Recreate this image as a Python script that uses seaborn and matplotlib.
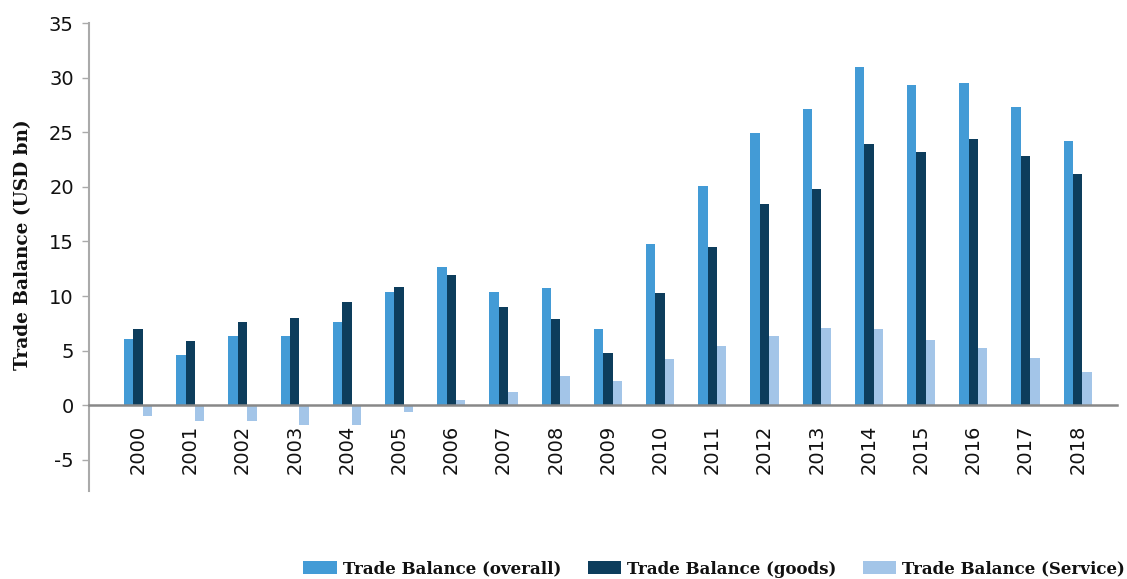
import matplotlib
matplotlib.use("Agg")
import matplotlib.pyplot as plt
import seaborn as sns
import pandas as pd
from matplotlib.patches import Patch

years = [str(y) for y in range(2000, 2019)]
overall = [6.1, 4.6, 6.3, 6.3, 7.6, 10.4, 12.7, 10.4, 10.7, 7.0, 14.8, 20.1, 24.9, 27.1, 31.0, 29.3, 29.5, 27.3, 24.2]
goods = [7.0, 5.9, 7.6, 8.0, 9.5, 10.8, 11.9, 9.0, 7.9, 4.8, 10.3, 14.5, 18.4, 19.8, 23.9, 23.2, 24.4, 22.8, 21.2]
service = [-1.0, -1.4, -1.4, -1.8, -1.8, -0.6, 0.5, 1.2, 2.7, 2.2, 4.25, 5.4, 6.35, 7.1, 7.0, 6.0, 5.2, 4.35, 3.0]
series_names = ["Trade Balance (overall)", "Trade Balance (goods)", "Trade Balance (Service)"]
colors = ["#439BD6", "#0D3D5C", "#A3C5E8"]
y_ticks = [-5, 0, 5, 10, 15, 20, 25, 30, 35]

df = pd.DataFrame({
    "year": years * 3,
    "value": overall + goods + service,
    "series": [series_names[0]] * len(years) + [series_names[1]] * len(years) + [series_names[2]] * len(years),
})

sns.set_style("white")
plt.rcParams["font.family"] = ["DejaVu Sans"]

fig = plt.figure(figsize=(11.27, 5.79), dpi=100)
ax = fig.add_axes([0.079, 0.1525, 0.912, 0.8075])

sns.barplot(data=df, x="year", y="value", hue="series", order=years,
            hue_order=series_names, palette=colors, width=0.54, gap=0,
            saturation=1, ax=ax, legend=False, errorbar=None,
            linewidth=0, edgecolor="none")

ax.set_xlim(-0.94, 18.75)
ax.set_ylim(-7.83, 35)
ax.set_yticks(y_ticks)
ax.set_yticklabels([str(t) for t in y_ticks], fontsize=14, color="#111111")
ax.set_xlabel("")
ax.set_ylabel("Trade Balance (USD bn)", family="DejaVu Serif", fontweight="bold",
              fontsize=13.3, color="#111111")
ax.yaxis.set_label_coords(-0.0555, 0.526)

for s in ["top", "right"]:
    ax.spines[s].set_visible(False)
ax.spines["left"].set_color("#AAAAAA")
ax.spines["left"].set_linewidth(1.5)
ax.spines["bottom"].set_position(("data", 0))
ax.spines["bottom"].set_color("#888888")
ax.spines["bottom"].set_linewidth(1.8)

ax.tick_params(axis="y", which="major", left=True, length=5, width=1, color="#AAAAAA", pad=6)
ax.tick_params(axis="x", which="major", bottom=False, length=0, pad=14)
for lab in ax.get_xticklabels():
    lab.set_rotation(90)
    lab.set_fontsize(14)
    lab.set_color("#111111")
    lab.set_va("top")

handles = [Patch(facecolor=c, edgecolor="none") for c in colors]
leg = fig.legend(handles, series_names, loc="lower right", ncol=3,
                 bbox_to_anchor=(1.004, -0.009), frameon=False,
                 prop={"family": "DejaVu Serif", "weight": "bold", "size": 12},
                 handlelength=2.0, handleheight=0.85, handletextpad=0.35,
                 columnspacing=1.6, borderaxespad=0.0)
for t in leg.get_texts():
    t.set_color("#111111")

fig.savefig("out.png", dpi=100)
